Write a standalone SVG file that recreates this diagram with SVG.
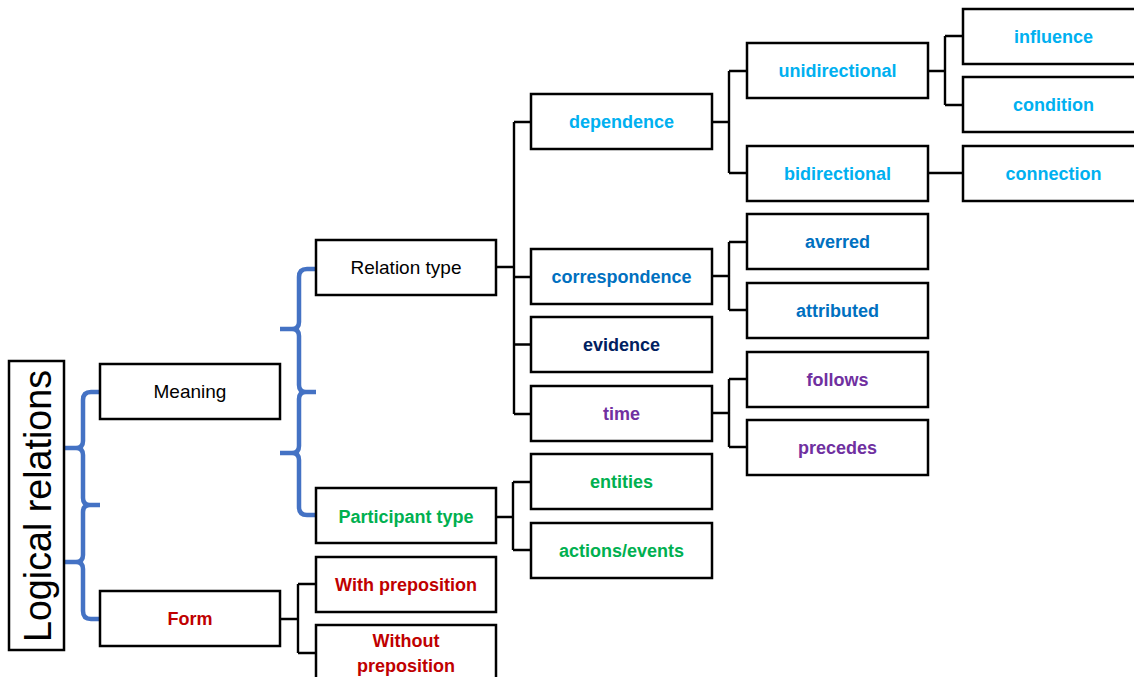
<svg xmlns="http://www.w3.org/2000/svg" width="1134" height="677" viewBox="0 0 1134 677">
<style>
.box{fill:#fff;stroke:#000;stroke-width:2.5}
.t{font-family:"Liberation Sans",Arial,sans-serif;font-size:18px;font-weight:bold;text-anchor:middle}
.r{font-family:"Liberation Sans",Arial,sans-serif;font-size:19px;text-anchor:middle;fill:#000}
.c{fill:none;stroke:#000;stroke-width:2.4}
.br{fill:none;stroke:#4472C4;stroke-width:4.5;stroke-linecap:butt;stroke-linejoin:round}
.lb{fill:#00B0F0}.db{fill:#0070C0}.nv{fill:#002060}.pu{fill:#7030A0}.gr{fill:#00B050}.rd{fill:#C00000}
</style>
<rect width="1134" height="677" fill="#fff"/>
<g id="connectors">
<path class="br" d="M100,392 H91 Q83,392 83,400 V441 Q83,448 76,448 H65 M65,448 H76 Q83,448 83,455 V498 Q83,505 90,505 H100 M100,505 H90 Q83,505 83,512 V555 Q83,562 76,562 H65 M65,562 H76 Q83,562 83,569 V611 Q83,619 91,619 H100"/>
<path class="br" d="M316,269 H307 Q299,269 299,277 V322 Q299,329 292,329 H280 M280,329 H292 Q299,329 299,336 V385 Q299,392 306,392 H316 M316,392 H306 Q299,392 299,399 V446 Q299,453 292,453 H280 M280,453 H292 Q299,453 299,460 V507 Q299,515 307,515 H316"/>
<path class="c" d="M496,267 H514 M514,122 V414 M514,122 H531 M514,277 H531 M514,344.5 H531 M514,414 H531"/>
<path class="c" d="M496,517 H513 M513,482 V550 M513,482 H531 M513,550 H531"/>
<path class="c" d="M280,619 H298 M298,584 V653 M298,584 H316 M298,653 H316"/>
<path class="c" d="M712,122 H729 M729,71 V173 M729,71 H747 M729,173 H747"/>
<path class="c" d="M928,71 H945 M945,36 V105 M945,36 H963 M945,105 H963 M928,173 H963"/>
<path class="c" d="M712,276 H729 M729,242 V310 M729,242 H747 M729,310 H747"/>
<path class="c" d="M712,413 H729 M729,379 V447 M729,379 H747 M729,447 H747"/>
</g>
<g id="logical-relations">
<rect class="box" x="9" y="361" width="55" height="289"/>
<text transform="translate(51,506) rotate(-90)" font-family="'Liberation Sans',Arial,sans-serif" font-size="38" text-anchor="middle" textLength="272" lengthAdjust="spacingAndGlyphs">Logical relations</text>
</g>
<g id="meaning"><rect class="box" x="100" y="364" width="180" height="55"/><text class="r" x="190" y="398">Meaning</text></g>
<g id="form"><rect class="box" x="100" y="591" width="180" height="55"/><text class="t rd" x="190" y="625">Form</text></g>
<g id="relation-type"><rect class="box" x="316" y="240" width="180" height="55"/><text class="r" x="406" y="274">Relation type</text></g>
<g id="participant-type"><rect class="box" x="316" y="488" width="180" height="55"/><text class="t gr" x="406" y="523">Participant type</text></g>
<g id="with-preposition"><rect class="box" x="316" y="557" width="180" height="55"/><text class="t rd" x="406" y="591">With preposition</text></g>
<g id="without-preposition"><rect class="box" x="316" y="625" width="180" height="60"/><text class="t rd" x="406" y="647">Without</text><text class="t rd" x="406" y="672">preposition</text></g>
<g id="dependence"><rect class="box" x="531" y="94" width="181" height="55"/><text class="t lb" x="621.5" y="128">dependence</text></g>
<g id="correspondence"><rect class="box" x="531" y="249" width="181" height="55"/><text class="t db" x="621.5" y="283">correspondence</text></g>
<g id="evidence"><rect class="box" x="531" y="317" width="181" height="55"/><text class="t nv" x="621.5" y="351">evidence</text></g>
<g id="time"><rect class="box" x="531" y="386" width="181" height="55"/><text class="t pu" x="621.5" y="420">time</text></g>
<g id="entities"><rect class="box" x="531" y="454" width="181" height="55"/><text class="t gr" x="621.5" y="488">entities</text></g>
<g id="actions-events"><rect class="box" x="531" y="523" width="181" height="55"/><text class="t gr" x="621.5" y="557">actions/events</text></g>
<g id="unidirectional"><rect class="box" x="747" y="43" width="181" height="55"/><text class="t lb" x="837.5" y="77">unidirectional</text></g>
<g id="bidirectional"><rect class="box" x="747" y="146" width="181" height="55"/><text class="t lb" x="837.5" y="180">bidirectional</text></g>
<g id="averred"><rect class="box" x="747" y="214" width="181" height="55"/><text class="t db" x="837.5" y="248">averred</text></g>
<g id="attributed"><rect class="box" x="747" y="283" width="181" height="55"/><text class="t db" x="837.5" y="317">attributed</text></g>
<g id="follows"><rect class="box" x="747" y="352" width="181" height="55"/><text class="t pu" x="837.5" y="386">follows</text></g>
<g id="precedes"><rect class="box" x="747" y="420" width="181" height="55"/><text class="t pu" x="837.5" y="454">precedes</text></g>
<g id="influence"><rect class="box" x="963" y="9" width="181" height="55"/><text class="t lb" x="1053.5" y="43">influence</text></g>
<g id="condition"><rect class="box" x="963" y="77" width="181" height="55"/><text class="t lb" x="1053.5" y="111">condition</text></g>
<g id="connection"><rect class="box" x="963" y="146" width="181" height="55"/><text class="t lb" x="1053.5" y="180">connection</text></g>
</svg>
